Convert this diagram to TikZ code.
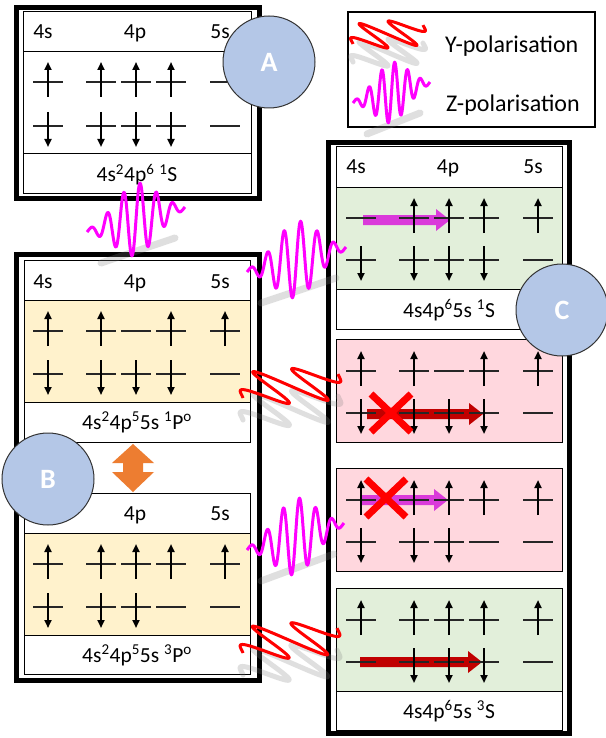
\documentclass[tikz,border=0pt]{standalone}
\usepackage{fontspec}
\setmainfont{Carlito}
\usetikzlibrary{arrows.meta}

\definecolor{circfill}{RGB}{180,199,231}
\definecolor{boxyellow}{RGB}{255,242,204}
\definecolor{boxgreen}{RGB}{226,239,218}
\definecolor{boxpink}{RGB}{255,215,222}
\definecolor{zpol}{RGB}{255,0,255}
\definecolor{arrmag}{RGB}{218,58,218}
\definecolor{arrred}{RGB}{192,0,0}
\definecolor{orangearr}{RGB}{237,125,49}

\tikzset{
  outerframe/.style={line width=5pt},
  cell/.style={draw=black, line width=1pt},
  lvl/.style={line width=1.5pt, black!85},
  spin/.style={line width=2.3pt, -{Triangle[width=7pt,length=8pt]}},
  lab/.style={font=\fontsize{21.5}{25}\selectfont, inner sep=0pt, anchor=base},
  leglab/.style={font=\fontsize{24}{28}\selectfont, inner sep=0pt, anchor=base west},
  badge/.style={circle, draw=black!80, line width=1pt, fill=circfill, minimum size=92pt,
    text=white, font=\fontsize{28}{30}\selectfont\bfseries},
  zline/.style={zpol, line width=3pt, line join=round},
  yline/.style={red, line width=3pt, line join=round},
  ghost/.style={gray, opacity=0.25, line cap=round, line join=round},
  nogo/.style={red, line width=7pt},
}

% one level: x, y, spin (u/d/n)
\newcommand{\orb}[3]{%
  \draw[lvl] (#1-15,#2) -- (#1+15,#2);
  \if#3u\draw[spin] (#1,#2+15) -- (#1,#2-20);\fi
  \if#3d\draw[spin] (#1,#2-14) -- (#1,#2+21);\fi}
% row 4s 4p 4p 4p 5s: x offset, y, five spins
\newcommand{\orbrow}[7]{%
  \orb{#1+48}{#2}{#3}\orb{#1+101}{#2}{#4}\orb{#1+136}{#2}{#5}%
  \orb{#1+171}{#2}{#6}\orb{#1+225}{#2}{#7}}
% header labels: name prefix, x offset, baseline
\newcommand{\heads}[3]{%
  \foreach \x/\s in {43/4s,135/4p,220/5s}
    \node[lab] (#1\s) at (#2+\x,#3) {\s};}
% fat arrow: colour, x start, x tip, y
\newcommand{\fatarrow}[4]{%
  \fill[#1] (#2,#4-5) -- (#3-14,#4-5) -- (#3-14,#4-11) -- (#3,#4)
    -- (#3-14,#4+11) -- (#3-14,#4+5) -- (#2,#4+5) -- cycle;}
% z wave packet: x0,y0,x1,y1,amplitude,cycles
\newcommand{\zwave}[6]{%
  \draw[ghost, line width=7pt] (#1+14,#2+31) -- (#3-10,#4+31);
  \draw[zline] plot[domain=0:1, samples=180, smooth, variable=\t]
    ({#1+(#3-#1)*\t}, {#2+(#4-#2)*\t-#5*exp(-((\t-0.5)/0.3)*((\t-0.5)/0.3))*sin(360*#6*\t)});}
% y wave packet: style, x0,y0,x1,y1,dx,dy,cycles
\newcommand{\ywave}[8]{%
  \draw[#1] plot[domain=0:1, samples=240, variable=\t]
    ({#2+(#4-#2)*\t+#6*exp(-((\t-0.5)/0.4)*((\t-0.5)/0.4))*sin(360*#8*\t)},
     {#3+(#5-#3)*\t+#7*exp(-((\t-0.5)/0.4)*((\t-0.5)/0.4))*sin(360*#8*\t)});}

\begin{document}
\begin{tikzpicture}[x=1pt, y=-1pt]
  \fill[white] (0,0) rectangle (605,738);
  \useasboundingbox (0,0) rectangle (605,738);
  % Box A
  \draw[outerframe] (16,7.5) rectangle (259,198);
  \draw[cell, fill=white] (23,12) rectangle (251,193);
  \draw[cell] (23,52) -- (251,52) (23,154) -- (251,154);
  \heads{A}{0}{39}
  \orbrow{0}{82}{u}{u}{u}{u}{n}
  \orbrow{0}{126}{d}{d}{d}{d}{n}
  \node[lab] (Aterm) at (137,182) {4s\textsuperscript{2}4p\textsuperscript{6} \textsuperscript{1}S};
  % Box B
  \draw[outerframe] (16,254.5) rectangle (259.5,680.5);
  \fill[boxyellow] (24,300) rectangle (250,402);
  \draw[cell] (24,260) rectangle (250,442);
  \draw[cell] (24,300) -- (250,300) (24,402) -- (250,402);
  \heads{Bi}{0}{288}
  \orbrow{0}{331}{u}{u}{n}{u}{u}
  \orbrow{0}{374}{d}{d}{d}{d}{n}
  \node[lab] (Biterm) at (137,429) {4s\textsuperscript{2}4p\textsuperscript{5}5s \textsuperscript{1}P\textsuperscript{o}};
  \fill[boxyellow] (24,533) rectangle (250,635);
  \draw[cell] (24,493) rectangle (250,674);
  \draw[cell] (24,533) -- (250,533) (24,635) -- (250,635);
  \heads{Bii}{0}{520}
  \orbrow{0}{564}{u}{u}{u}{u}{u}
  \orbrow{0}{607}{d}{d}{d}{n}{n}
  \node[lab] (Biiterm) at (137,662) {4s\textsuperscript{2}4p\textsuperscript{5}5s \textsuperscript{3}P\textsuperscript{o}};
  % exchange arrow
  \fill[orangearr] (133,444) -- (154,463) -- (143,463) -- (143,472) -- (154,472) -- (133,492)
    -- (112,472) -- (123,472) -- (123,463) -- (112,463) -- cycle;
  % Box C
  \draw[outerframe] (328.5,142.5) rectangle (569.5,733.5);
  \fill[boxgreen] (336,187) rectangle (562,289);
  \draw[cell] (336,147) rectangle (562,329);
  \draw[cell] (336,187) -- (562,187) (336,289) -- (562,289);
  \heads{Ci}{313}{174}
  \draw[cell, fill=boxpink] (336,339) rectangle (562,442);
  \draw[cell, fill=boxpink] (336,468) rectangle (562,571);
  \fill[boxgreen] (336,588) rectangle (562,691);
  \draw[cell] (336,588) rectangle (562,730);
  \draw[cell] (336,691) -- (562,691);
  \fatarrow{arrmag}{363}{450}{220}
  \fatarrow{arrred}{367}{483}{414}
  \fatarrow{arrmag}{362}{448}{500}
  \fatarrow{arrred}{360}{482}{662}
  \orbrow{313}{218}{n}{u}{u}{u}{u}
  \orbrow{313}{260}{d}{d}{d}{d}{n}
  \orbrow{313}{371}{u}{u}{n}{u}{u}
  \orbrow{313}{413}{d}{d}{d}{d}{n}
  \orbrow{313}{500}{u}{u}{u}{u}{u}
  \orbrow{313}{542}{d}{d}{d}{n}{n}
  \orbrow{313}{620}{u}{u}{u}{u}{u}
  \orbrow{313}{662}{n}{d}{d}{d}{n}
  \node[lab] (Citerm) at (449,317) {4s4p\textsuperscript{6}5s \textsuperscript{1}S};
  \node[lab] (Civterm) at (449,718) {4s4p\textsuperscript{6}5s \textsuperscript{3}S};
  \foreach \x/\y in {391/413,386/498}
    \draw[nogo] (\x-20,\y-19) -- (\x+20,\y+19) (\x-20,\y+19) -- (\x+20,\y-19);
  % Legend
  \draw[line width=2pt] (348,12) rectangle (595,127);
  \node[leglab] (ylab) at (445,53) {Y-polarisation};
  \node[leglab] (zlab) at (446,112) {Z-polarisation};
  % Light
  \zwave{87}{232}{185}{207}{36}{6}
  \zwave{247}{272}{346}{247}{38}{6}
  \zwave{247}{550}{344}{523}{38}{6}
  \zwave{353}{103}{430}{82}{30}{6}
  \ywave{ghost, line width=5pt, yshift=-22pt}{243}{398}{338}{374}{-31}{-17}{3}
  \ywave{yline}{243}{398}{338}{374}{-31}{-17}{3}
  \ywave{ghost, line width=5pt, yshift=-22pt}{243}{653}{337}{628}{-31}{-17}{3}
  \ywave{yline}{243}{653}{337}{628}{-31}{-17}{3}
  \ywave{ghost, line width=5pt, yshift=-18pt}{353}{44}{423}{25}{-24}{-13}{3}
  \ywave{yline}{353}{44}{423}{25}{-24}{-13}{3}
  % Labels
  \node[badge] (cA) at (269,62) {A};
  \node[badge] (cB) at (48,479) {B};
  \node[badge] (cC) at (562,310) {C};
\end{tikzpicture}
\end{document}
